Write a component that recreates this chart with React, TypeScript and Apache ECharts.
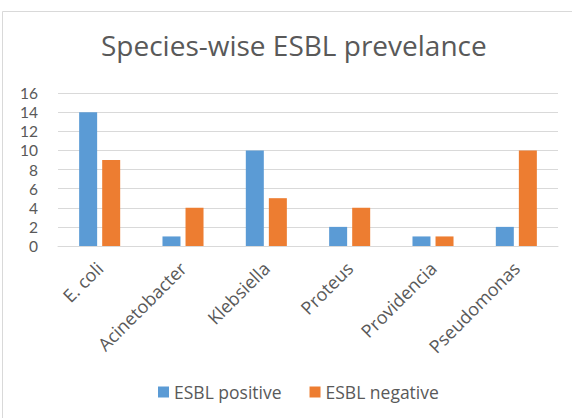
import React, { useEffect, useRef } from "react";
import * as echarts from "echarts";

const categories = ["E. coli", "Acinetobacter", "Klebsiella", "Proteus", "Providencia", "Pseudomonas"];
const positiveValues = [14, 1, 10, 2, 1, 2];
const negativeValues = [9, 4, 5, 4, 1, 10];
const seriesNames = ["ESBL positive", "ESBL negative"];

export default function App() {
  const ref = useRef<HTMLDivElement>(null);
  useEffect(() => {
    if (!ref.current) return;
    const chart = echarts.init(ref.current, undefined, { renderer: "svg" });
    const font = "Open Sans";
    chart.setOption({
      animation: false,
      backgroundColor: "#ffffff",
      title: {
        text: "Species-wise ESBL prevelance",
        left: 96,
        top: 26,
        textStyle: { fontFamily: font, fontSize: 28, fontWeight: "normal", color: "#595959" },
      },
      graphic: [
        {
          type: "rect",
          shape: { x: 2.5, y: 11.5, width: 700, height: 600 },
          style: { fill: "none", stroke: "#d9d9d9", lineWidth: 1 },
          silent: true,
        },
      ],
      legend: {
        data: seriesNames,
        top: 378,
        left: 153,
        itemWidth: 11,
        itemHeight: 11,
        itemGap: 28,
        icon: "rect",
        textStyle: { fontFamily: font, fontSize: 17.5, color: "#595959" },
      },
      grid: { left: 58, right: 14, top: 93, bottom: 172, containLabel: false },
      xAxis: {
        type: "category",
        data: categories,
        axisLine: { lineStyle: { color: "#d9d9d9" } },
        axisTick: { show: false },
        axisLabel: { rotate: 45, fontFamily: font, fontSize: 18, color: "#595959", margin: 19, interval: 0 },
      },
      yAxis: {
        type: "value",
        min: 0,
        max: 16,
        interval: 2,
        axisLine: { show: false },
        axisTick: { show: false },
        splitLine: { lineStyle: { color: "#d9d9d9" } },
        axisLabel: { fontFamily: "Lato", fontSize: 15.5, lineHeight: 15, color: "#595959", margin: 20 },
      },
      series: [
        {
          name: seriesNames[0],
          type: "bar",
          data: positiveValues,
          barWidth: 18,
          barGap: "28%",
          itemStyle: { color: "#5b9bd5" },
        },
        {
          name: seriesNames[1],
          type: "bar",
          data: negativeValues,
          barWidth: 18,
          barGap: "28%",
          itemStyle: { color: "#ed7d31" },
        },
      ],
    });
    return () => chart.dispose();
  }, []);
  return <div ref={ref} style={{ width: 572, height: 418, position: "absolute", left: 0, top: 0 }} />;
}
